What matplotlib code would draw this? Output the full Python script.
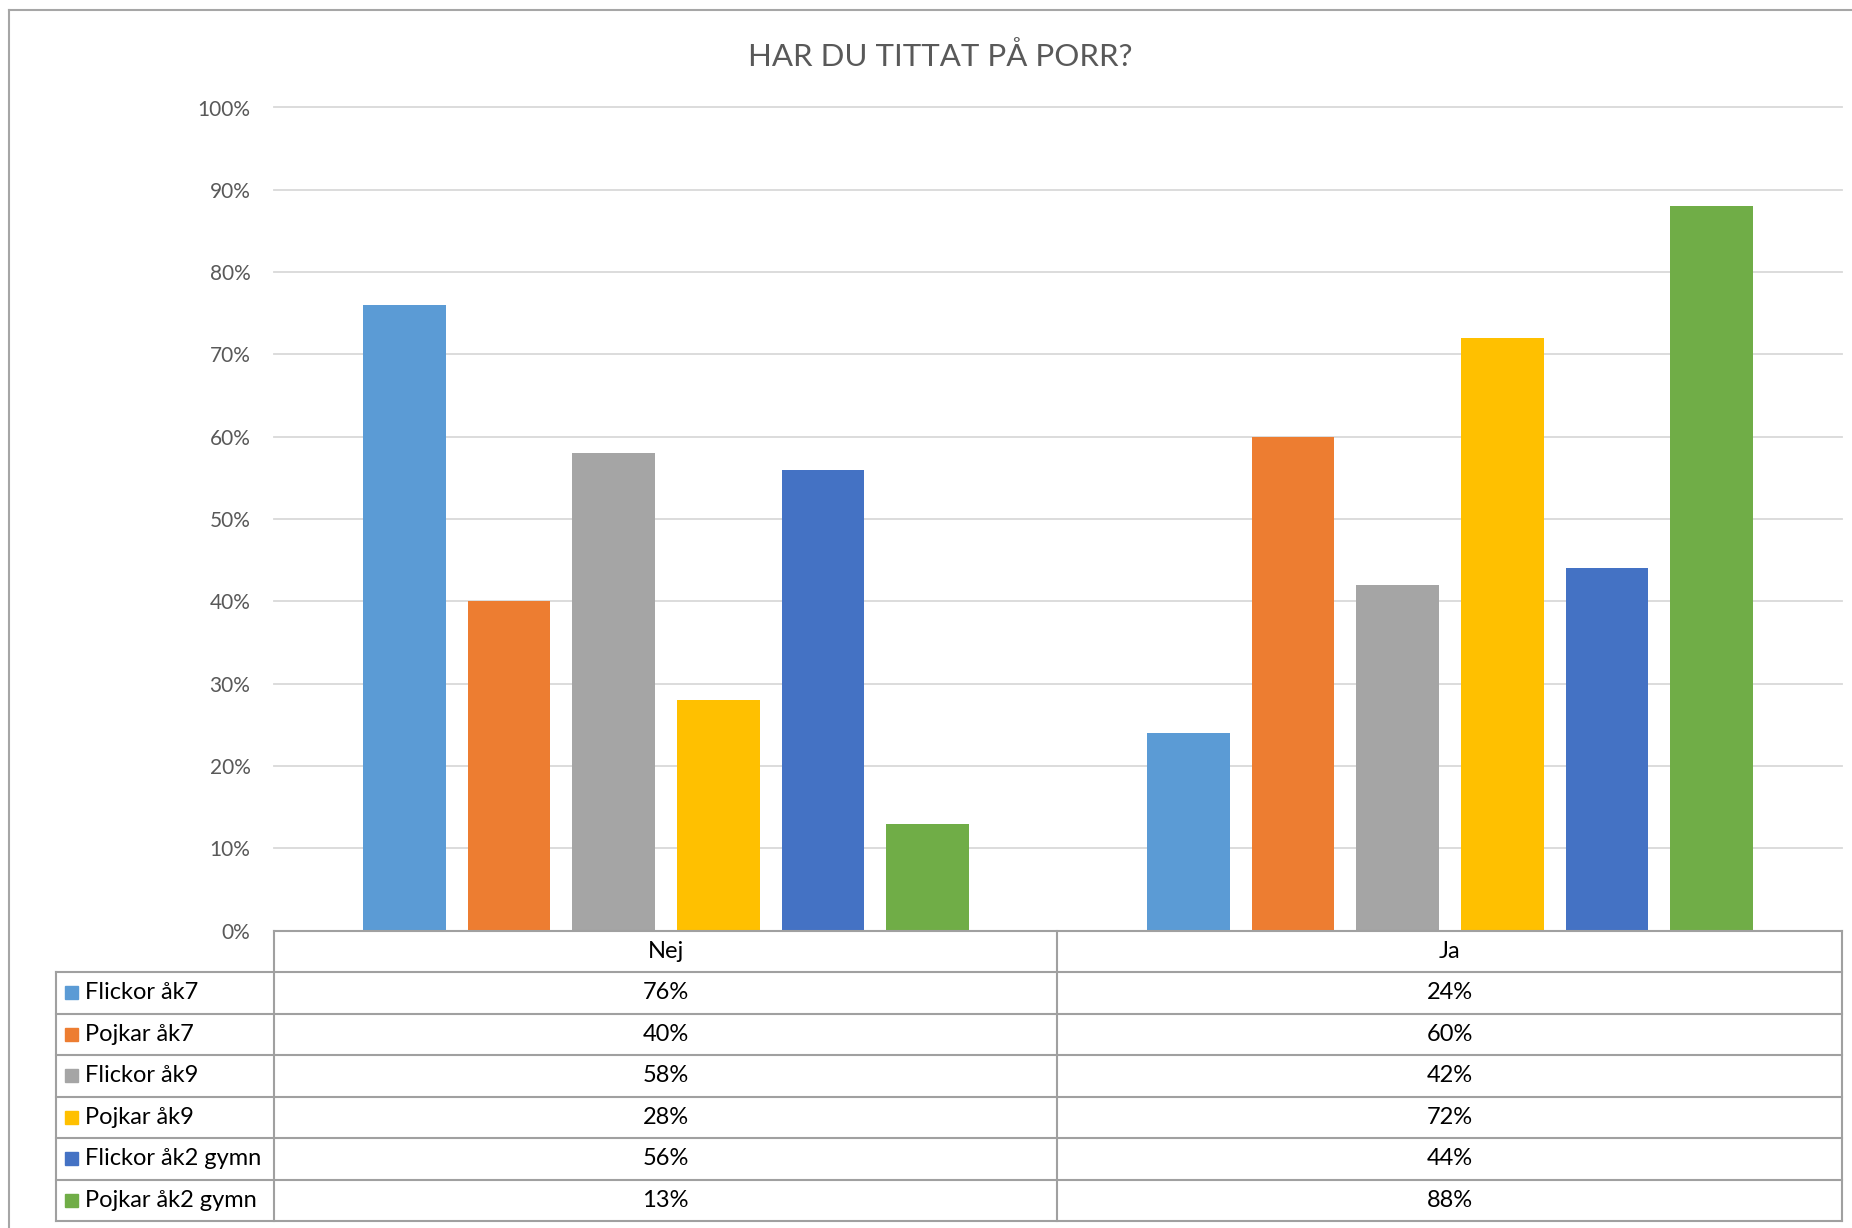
import numpy as np
import matplotlib.pyplot as plt
from matplotlib.lines import Line2D
from matplotlib.patches import Rectangle

categories = ["Nej", "Ja"]
series = ["Flickor åk7", "Pojkar åk7", "Flickor åk9", "Pojkar åk9",
          "Flickor åk2 gymn", "Pojkar åk2 gymn"]
values = [
    [76, 24],
    [40, 60],
    [58, 42],
    [28, 72],
    [56, 44],
    [13, 88],
]
colors = ["#5B9BD5", "#ED7D31", "#A5A5A5", "#FFC000", "#4472C4", "#70AD47"]
title = "HAR DU TITTAT PÅ PORR?"

W, H = 1852, 1228
plt.rcParams['font.family'] = ['Lato', 'DejaVu Sans']

fig = plt.figure(figsize=(W / 100, H / 100), dpi=100)


def fx(x):
    return x / W


def fy(y):
    return 1 - y / H


# plot area in pixels
left, right, top, bottom = 274, 1842, 107.5, 930.6
ax = fig.add_axes([fx(left), fy(bottom), fx(right - left), (bottom - top) / H])

x = np.arange(len(categories))
slot = 1 / 7.5
width = slot * 0.79
for i, (name, vals) in enumerate(zip(series, values)):
    ax.bar(x + (i - 2.5) * slot, vals, width, color=colors[i], zorder=3)

ax.set_xlim(-0.5, len(categories) - 0.5)
ax.set_ylim(0, 100)
ax.set_yticks(np.arange(0, 101, 10))
ax.set_yticklabels([f"{t}%" for t in range(0, 101, 10)])
ax.set_xticks([])
ax.tick_params(axis='y', length=0, pad=17, labelsize=15, labelcolor="#595959")
ax.grid(axis='y', color="#D9D9D9", lw=1.3, zorder=0)
for gl in ax.get_ygridlines():
    gl.set_clip_on(False)
for s in ax.spines.values():
    s.set_visible(False)

fig.text(fx(940), fy(56), title, ha='center', va='center',
         fontsize=22.5, color="#595959")

# outer chart border
border = "#A6A6A6"
fig.add_artist(Line2D([fx(9), fx(9)], [fy(10), fy(H + 5)], color=border, lw=1.5))
fig.add_artist(Line2D([fx(9), fx(W + 5)], [fy(10), fy(10)], color=border, lw=1.5))

# data table below the plot
line_c = "#A0A0A0"
row_y = [bottom + 41.5 * k for k in range(len(series) + 2)]
leg_left = 55.5
col_x = [left, 1057, right]

for k, yy in enumerate(row_y):
    x0 = left if k == 0 else leg_left
    fig.add_artist(Line2D([fx(x0), fx(right)], [fy(yy), fy(yy)], color=line_c, lw=1.5))
for xx in col_x:
    fig.add_artist(Line2D([fx(xx), fx(xx)], [fy(bottom), fy(row_y[-1])], color=line_c, lw=1.5))
fig.add_artist(Line2D([fx(leg_left), fx(leg_left)], [fy(row_y[1]), fy(row_y[-1])],
                      color=line_c, lw=1.5))

for j, cat in enumerate(categories):
    cx = (col_x[j] + col_x[j + 1]) / 2
    fig.text(fx(cx), fy((row_y[0] + row_y[1]) / 2), cat, ha='center', va='center',
             fontsize=17, color="#000000")
    for i in range(len(series)):
        cy = (row_y[i + 1] + row_y[i + 2]) / 2
        fig.text(fx(cx), fy(cy), f"{values[i][j]}%", ha='center', va='center',
                 fontsize=17, color="#000000")

for i, name in enumerate(series):
    cy = (row_y[i + 1] + row_y[i + 2]) / 2
    fig.add_artist(Rectangle((fx(65), fy(cy + 6.5)), fx(13), 13 / H,
                             color=colors[i], transform=fig.transFigure))
    fig.text(fx(85), fy(cy), name, ha='left', va='center', fontsize=17, color="#000000")

fig.savefig("out.png", dpi=100, facecolor="white")
